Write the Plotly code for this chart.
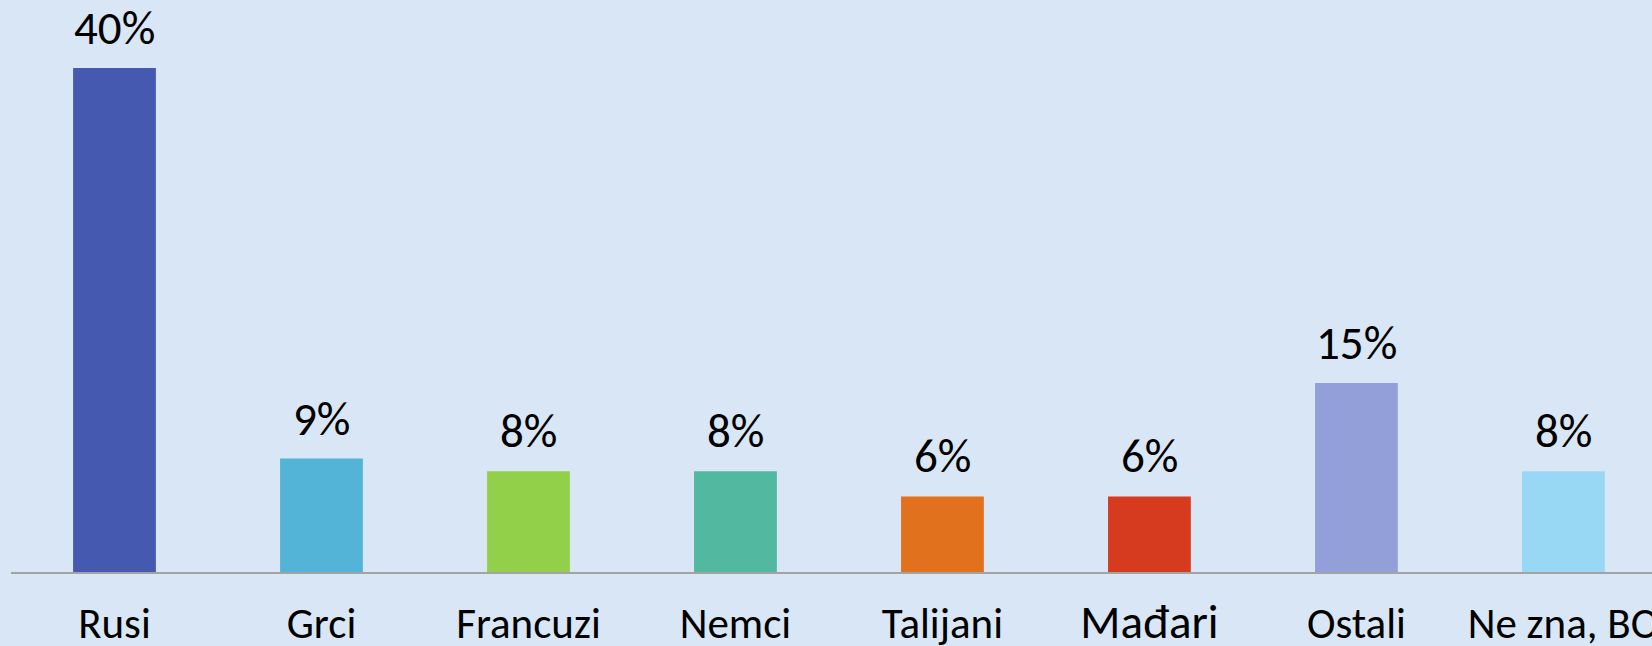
import plotly.graph_objects as go

categories = ["Rusi", "Grci", "Francuzi", "Nemci", "Talijani", "Mađari", "Ostali", "Ne zna, BO"]
values = [40, 9, 8, 8, 6, 6, 15, 8]
colors = ["#4459AF", "#53B4D8", "#92D04A", "#52B8A0", "#E2711D", "#D63A1F", "#929FD8", "#99D8F4"]
tick_labels = ["Rusi", "Grci", "Francuzi", "Nemci", "Talijani",
               "<span style='font-size:47px'>Mađari</span>", "Ostali", "Ne zna, BO"]

BG = "#D9E6F5"
FONT = "Calibri, Carlito, Lato, sans-serif"

fig = go.Figure()
fig.add_trace(go.Bar(
    x=list(range(len(categories))),
    y=values,
    marker=dict(color=colors, line=dict(width=0)),
    width=0.4,
    hoverinfo="skip",
))

annotations = [
    dict(x=i, y=v, xref="x", yref="y", text=f"{v}%", showarrow=False,
         yanchor="bottom", yshift=9, font=dict(family=FONT, size=47, color="black"))
    for i, v in enumerate(values)
]

fig.update_layout(
    width=1652, height=646,
    margin=dict(l=11, r=0, t=0, b=74, autoexpand=False),
    paper_bgcolor=BG, plot_bgcolor=BG,
    showlegend=False,
    annotations=annotations,
    xaxis=dict(
        tickmode="array",
        tickvals=list(range(len(categories))),
        ticktext=tick_labels,
        range=[-0.5, 7.428],
        showgrid=False, zeroline=False,
        showline=True, linecolor="#A3A3A3", linewidth=2,
        ticks="", ticklabelstandoff=12,
        ticklabeloverflow="allow",
        automargin=False,
        tickfont=dict(family=FONT, size=43, color="black"),
        fixedrange=True,
    ),
    yaxis=dict(
        range=[0, 45.4],
        visible=False, showgrid=False, zeroline=False,
        automargin=False,
        fixedrange=True,
    ),
)

fig.write_html("out.html", config={"displayModeBar": False},
               post_script="document.body.style.margin='0';document.body.style.overflow='hidden';")
